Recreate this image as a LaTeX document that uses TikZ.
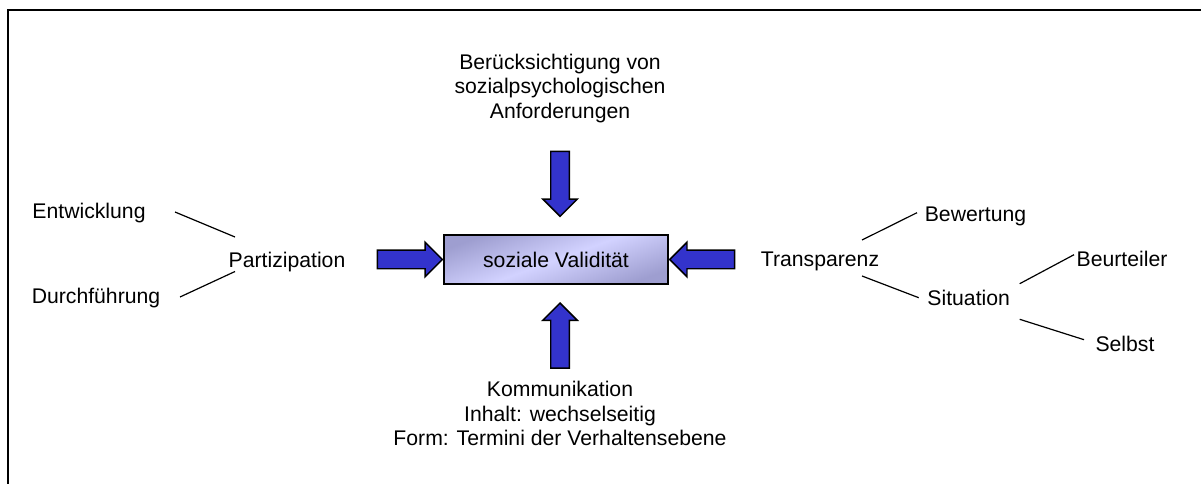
\documentclass[tikz,border=0pt]{standalone}
\usepackage{fontspec}
\setmainfont{Liberation Sans}
\usepackage{tikz}
\usetikzlibrary{shapes.arrows}
\definecolor{arrowblue}{RGB}{51,51,204}
\definecolor{boxlight}{RGB}{210,210,255}
\definecolor{boxdark}{RGB}{158,158,208}

\begin{document}
\begin{tikzpicture}[x=0.75pt,y=-0.75pt,
		word node/.style={inner sep=0pt,anchor=base,font=\fontsize{15.9pt}{18.4pt}\selectfont},
		block node/.style={inner sep=0pt,align=center,font=\fontsize{15.9pt}{18.4pt}\selectfont},
		block arrow/.style={single arrow,draw=black,line width=1.1pt,fill=arrowblue,inner sep=6.4pt,
			single arrow head extend=6pt,minimum height=48.75pt,anchor=tip},
		centre box/.style={rectangle,draw=black,line width=1pt,minimum width=168pt,minimum height=36.75pt,
			top color=boxdark,bottom color=boxdark,middle color=boxlight,shading angle=20,
			font=\fontsize{15.9pt}{18.4pt}\selectfont},
		link/.style={line width=0.9pt}]

		\useasboundingbox (0,0) rectangle (1201,484);
		\draw[line width=1.5pt] (8,484) -- (8,10) -- (1201,10);

		% centre and the four arrows
		\node[centre box] (sv) at (556,259.5) {soziale Validit\"at};
		\node[block arrow] (aw) at (sv.west) {};
		\node[block arrow,shape border rotate=180] (ae) at (sv.east) {};
		\node[block arrow,shape border rotate=270] (an) at ([xshift=3pt,yshift=12.75pt]sv.north) {};
		\node[block arrow,shape border rotate=90] (as) at ([xshift=3pt,yshift=-13pt]sv.south) {};

		\node[block node] (ber) at (560,88.5) {Ber\"ucksichtigung von\\sozialpsychologischen\\Anforderungen};
		\node[block node] (kom) at (560,413.5) {Kommunikation\\Inhalt: wechselseitig\\Form: Termini der Verhaltensebene};

		% left side
		\node[word node] (part) at (287,267.5) {Partizipation};
		\node[word node] (entw) at (89,219) {Entwicklung};
		\node[word node] (durch) at (96,303) {Durchf\"uhrung};

		% right side
		\node[word node] (trans) at (820,267) {Transparenz};
		\node[word node] (bew) at (975.5,221.7) {Bewertung};
		\node[word node] (sit) at (968.7,305.7) {Situation};
		\node[word node] (beur) at (1122,266.7) {Beurteiler};
		\node[word node] (selbst) at (1125,351.7) {Selbst};

		\draw[link] ([shift={(86,-7)}]entw.base) -- ([shift={(-52,-30.5)}]part.base);
		\draw[link] ([shift={(84,-6)}]durch.base) -- ([shift={(-52,4)}]part.base);
		\draw[link] ([shift={(42,-27)}]trans.base) -- ([shift={(-58.5,-9)}]bew.base);
		\draw[link] ([shift={(42,9)}]trans.base) -- ([shift={(-50,-8)}]sit.base);
		\draw[link] ([shift={(51,-22)}]sit.base) -- ([shift={(-48,-12)}]beur.base);
		\draw[link] ([shift={(51,13.6)}]sit.base) -- ([shift={(-41,-12)}]selbst.base);
	\end{tikzpicture}
\end{document}
